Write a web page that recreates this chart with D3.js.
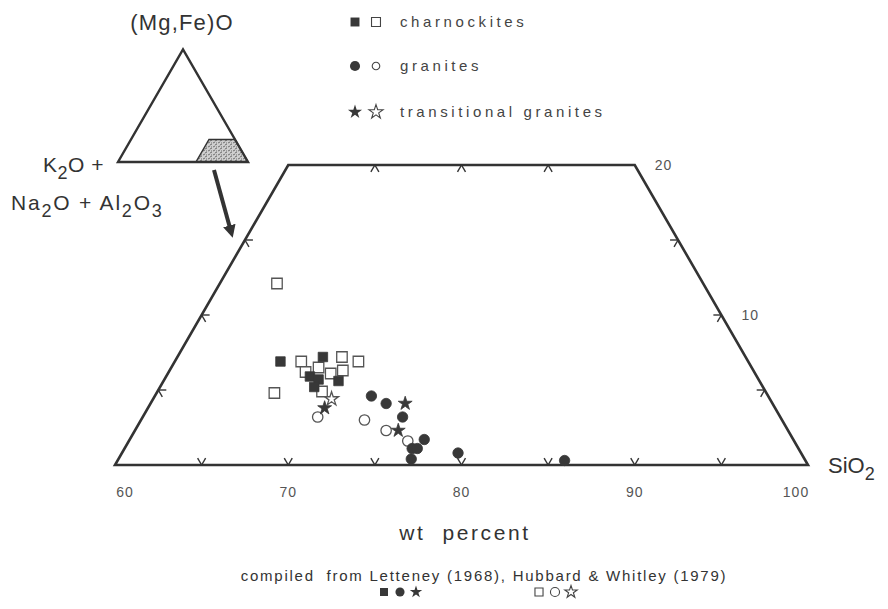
<!DOCTYPE html>
<html>
<head>
<meta charset="utf-8">
<script src="https://cdn.jsdelivr.net/npm/d3@7"></script>
<style>
  body { margin: 0; background: #fff; }
  svg text { font-family: "Liberation Sans", Arial, sans-serif; fill: #333; }
</style>
</head>
<body>
<svg id="chart" width="888" height="609"></svg>
<script>
// values: [SiO2 wt%, (Mg,Fe)O wt%]
const charnockitesFilled = [[66.1, 6.9], [68.4, 7.2], [68.3, 5.9], [68.9, 5.7], [70.1, 5.6], [68.9, 5.2]];
const charnockitesOpen = [[63.3, 12.1], [67.3, 6.9], [69.5, 7.2], [70.6, 6.9], [67.9, 6.2], [68.5, 6.5],
                          [69.4, 6.1], [70.0, 6.3], [69.5, 4.9], [66.8, 4.8]];
const granitesFilled = [[72.5, 4.6], [73.6, 4.1], [75.0, 3.2], [77.0, 1.7], [76.6, 1.1], [76.9, 1.1],
                        [76.9, 0.4], [79.4, 0.8], [85.8, 0.3]];
const granitesOpen = [[70.1, 3.2], [72.9, 3.0], [74.5, 2.3], [76.1, 1.6]];
const transitionalFilled = [[70.2, 3.8], [74.7, 4.1], [75.2, 2.3]];
const transitionalOpen = [[70.3, 4.4]];

const siTicks = [60, 70, 80, 90, 100];
const baseTicks = [65, 70, 75, 80, 85, 90, 95];
const topTicks = [65, 70, 75];
const sideTicks = [5, 10, 15];
const rightLabels = [10, 20];

const svg = d3.select("#chart");
const ink = "#333";

// ternary section: SiO2 60-100 along the base, (Mg,Fe)O 0-20 upward
const xScale = d3.scaleLinear().domain([60, 100]).range([115, 808]);
const mScale = d3.scaleLinear().domain([0, 20]).range([465, 165]);
const pos = (s, m) => [xScale(s + m / 2), mScale(m)];

const outline = [pos(60, 0), pos(100, 0), pos(80, 20), pos(60, 20)];
svg.append("polygon")
    .attr("points", outline.map(p => p.join(",")).join(" "))
    .attr("fill", "none")
    .attr("stroke", ink)
    .attr("stroke-width", 2.6)
    .attr("stroke-linejoin", "miter");

// tick marks: two short arms along the other grid directions
const arm = 8;
function tick(p, dirs) {
    dirs.forEach(a => {
        const r = a * Math.PI / 180;
        svg.append("line")
            .attr("x1", p[0]).attr("y1", p[1])
            .attr("x2", p[0] + arm * Math.cos(r)).attr("y2", p[1] - arm * Math.sin(r))
            .attr("stroke", ink).attr("stroke-width", 1.4);
    });
}
baseTicks.forEach(s => tick(pos(s, 0), [60, 120]));
topTicks.forEach(s => tick(pos(s, 20), [240, 300]));
sideTicks.forEach(m => tick(pos(60, m), [0, 300]));
sideTicks.forEach(m => tick(pos(100 - m, m), [180, 240]));

svg.selectAll(".silabel")
    .data(siTicks)
    .join("text")
    .attr("x", d => xScale(d) + (d === 60 ? 10 : d === 100 ? -12 : 0))
    .attr("y", 497)
    .attr("text-anchor", "middle")
    .attr("font-size", 14)
    .attr("letter-spacing", 1)
    .style("fill", "#555")
    .text(d => d);

svg.selectAll(".mlabel")
    .data(rightLabels)
    .join("text")
    .attr("x", d => pos(100 - d, d)[0] + 20)
    .attr("y", d => pos(100 - d, d)[1] + 5)
    .attr("font-size", 14)
    .attr("letter-spacing", 1)
    .style("fill", "#555")
    .text(d => d);

const si = svg.append("text").attr("x", 828).attr("y", 473).attr("font-size", 22);
si.append("tspan").text("SiO");
si.append("tspan").attr("dy", 7).attr("font-size", 18).text("2");

svg.append("text")
    .attr("x", 465).attr("y", 540)
    .attr("text-anchor", "middle")
    .attr("font-size", 21)
    .attr("letter-spacing", 2.6)
    .attr("xml:space", "preserve")
    .text("wt  percent");

// markers
const dark = "#383838";
function plot(data, type, size, filled) {
    svg.append("g").selectAll("path")
        .data(data)
        .join("path")
        .attr("transform", d => `translate(${pos(d[0], d[1])})`)
        .attr("d", d3.symbol(type, size))
        .attr("fill", filled ? dark : "#fff")
        .attr("stroke", filled ? dark : "#555")
        .attr("stroke-width", filled ? 0.8 : 1.3);
}
plot(charnockitesOpen, d3.symbolSquare, 110, false);
plot(charnockitesFilled, d3.symbolSquare, 90, true);
plot(granitesOpen, d3.symbolCircle, 85, false);
plot(granitesFilled, d3.symbolCircle, 85, true);
plot(transitionalOpen, d3.symbolStar, 60, false);
plot(transitionalFilled, d3.symbolStar, 60, true);

// small index triangle
const tx = d3.scaleLinear().domain([0, 100]).range([118, 248]);
const ty = d3.scaleLinear().domain([0, 100]).range([162, 162 - 112.6]);
const tpos = (s, m) => [tx(s + m / 2), ty(m)];

const defs = svg.append("defs");
const pat = defs.append("pattern")
    .attr("id", "stipple")
    .attr("width", 5).attr("height", 4)
    .attr("patternUnits", "userSpaceOnUse");
pat.append("rect").attr("width", 5).attr("height", 4).attr("fill", "#cfcfcf");
pat.append("path").attr("d", "M0,1 L2,0 M3,3 L5,2 M1,3 h1").attr("stroke", "#555").attr("stroke-width", 0.8);

svg.append("polygon")
    .attr("points", [tpos(60, 0), tpos(100, 0), tpos(80, 20), tpos(60, 20)].map(p => p.join(",")).join(" "))
    .attr("fill", "url(#stipple)")
    .attr("stroke", ink).attr("stroke-width", 1.5);

svg.append("polygon")
    .attr("points", [tpos(0, 0), tpos(100, 0), tpos(0, 100)].map(p => p.join(",")).join(" "))
    .attr("fill", "none")
    .attr("stroke", ink).attr("stroke-width", 2.4);

svg.append("text")
    .attr("x", 182).attr("y", 30)
    .attr("text-anchor", "middle")
    .attr("font-size", 22)
    .attr("letter-spacing", 1.2)
    .text("(Mg,Fe)O");

const k2o = svg.append("text").attr("x", 43).attr("y", 172).attr("font-size", 21).attr("letter-spacing", 0.5);
k2o.append("tspan").text("K");
k2o.append("tspan").attr("dy", 7).attr("font-size", 18).text("2");
k2o.append("tspan").attr("dy", -7).text("O +");

const na = svg.append("text").attr("x", 11).attr("y", 210).attr("font-size", 21).attr("letter-spacing", 1.8);
na.append("tspan").text("Na");
na.append("tspan").attr("dy", 7).attr("font-size", 18).text("2");
na.append("tspan").attr("dy", -7).text("O + Al");
na.append("tspan").attr("dy", 7).attr("font-size", 18).text("2");
na.append("tspan").attr("dy", -7).text("O");
na.append("tspan").attr("dy", 7).attr("font-size", 18).text("3");

// arrow from index triangle down to the enlarged section
defs.append("marker")
    .attr("id", "head")
    .attr("viewBox", "0 0 10 10")
    .attr("refX", 2).attr("refY", 5)
    .attr("markerWidth", 3.2).attr("markerHeight", 3.2)
    .attr("orient", "auto")
    .append("path").attr("d", "M0,0 L10,5 L0,10 z").attr("fill", ink);
svg.append("line")
    .attr("x1", 214).attr("y1", 170)
    .attr("x2", 230).attr("y2", 228)
    .attr("stroke", ink).attr("stroke-width", 4)
    .attr("marker-end", "url(#head)");

// legend
const legend = [
    {label: "charnockites", type: d3.symbolSquare, y: 22},
    {label: "granites", type: d3.symbolCircle, y: 66},
    {label: "transitional granites", type: d3.symbolStar, y: 112}
];
legend.forEach(l => {
    const sz = l.type === d3.symbolStar ? 62 : 80;
    svg.append("path").attr("transform", `translate(355,${l.y})`)
        .attr("d", d3.symbol(l.type, sz)).attr("fill", dark);
    svg.append("path").attr("transform", `translate(376,${l.y})`)
        .attr("d", d3.symbol(l.type, l.type === d3.symbolCircle ? 45 : sz))
        .attr("fill", "#fff").attr("stroke", "#444").attr("stroke-width", 1.1);
    svg.append("text")
        .attr("x", 400).attr("y", l.y + 5)
        .attr("font-size", 15)
        .attr("letter-spacing", 3.6)
        .style("fill", "#444")
        .text(l.label);
});

// source note
svg.append("text")
    .attr("x", 484).attr("y", 581)
    .attr("text-anchor", "middle")
    .attr("font-size", 15)
    .attr("letter-spacing", 1.75)
    .attr("xml:space", "preserve")
    .text("compiled  from Letteney (1968), Hubbard & Whitley (1979)");
const src = [
    {x: 384, filled: true}, {x: 539, filled: false}
];
src.forEach(g => {
    [d3.symbolSquare, d3.symbolCircle, d3.symbolStar].forEach((t, i) => {
        svg.append("path")
            .attr("transform", `translate(${g.x + i * 16},592)`)
            .attr("d", d3.symbol(t, t === d3.symbolStar ? 48 : 65))
            .attr("fill", g.filled ? dark : "#fff")
            .attr("stroke", g.filled ? "none" : "#444")
            .attr("stroke-width", 1.1);
    });
});
</script>
</body>
</html>
